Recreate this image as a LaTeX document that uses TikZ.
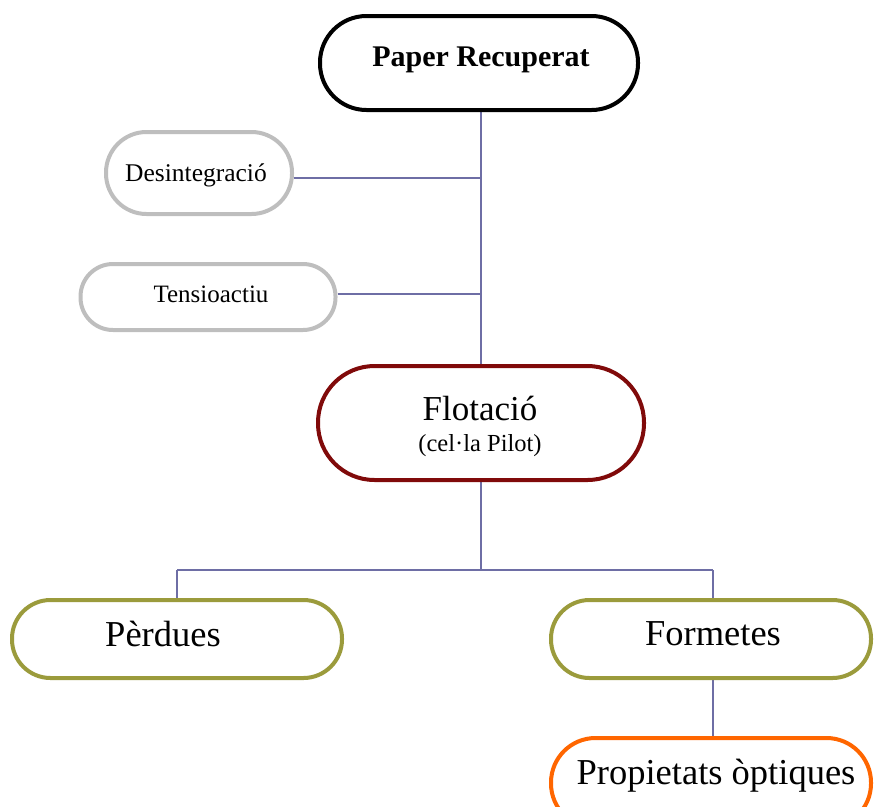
\documentclass[tikz,border=0pt]{standalone}
\usepackage{fontspec}
\usetikzlibrary{backgrounds,calc}
\setmainfont{Liberation Serif}
\definecolor{linkblue}{RGB}{110,110,165}
\definecolor{softgray}{RGB}{190,190,190}
\definecolor{darkred}{RGB}{128,10,10}
\definecolor{olive}{RGB}{155,155,60}
\definecolor{brightorange}{RGB}{255,102,0}
\tikzset{
  pill/.style n args={3}{draw=#1, line width=4pt, fill=white, inner sep=0pt,
    minimum width=#2, minimum height=#3, rounded corners=#3/2-0.5pt},
  link/.style={draw=linkblue, line width=1.5pt},
  lbl/.style={font=#1, inner sep=0pt}
}
\begin{document}
\begin{tikzpicture}[x=1pt,y=-1pt]
\useasboundingbox (0,0) rectangle (874,806);
\clip (0,0) rectangle (874,806);

% boxes
\node[pill={black}{318pt}{94pt}] (paper) at (479,63) {};
\node[pill={softgray}{186pt}{82pt}] (desint) at (199,173) {};
\node[pill={softgray}{255pt}{66pt}] (tens) at (208,297) {};
\node[pill={darkred}{326pt}{114pt}] (flot) at (481,423) {};
\node[pill={olive}{330pt}{78pt}] (perd) at (177,639) {};
\node[pill={olive}{320pt}{78pt}] (form) at (711,639) {};
\node[pill={brightorange}{320pt}{90pt}] (prop) at (711,783) {};

% labels
\node[lbl={\bfseries\fontsize{30pt}{34pt}\selectfont}] (tpaper) at (481,60) {Paper Recuperat};
\node[lbl={\fontsize{25.5pt}{30pt}\selectfont}] (tdesint) at (196,175) {Desintegració};
\node[lbl={\fontsize{25pt}{30pt}\selectfont}] (ttens) at (211,294) {Tensioactiu};
\node[lbl={\fontsize{35pt}{40pt}\selectfont}] (tflot) at (480,408) {Flotació};
\node[lbl={\fontsize{24.5pt}{28pt}\selectfont}] (tcel) at (480,446) {(cel·la Pilot)};
\node[lbl={\fontsize{36.5pt}{42pt}\selectfont}] (tperd) at (163,634) {Pèrdues};
\node[lbl={\fontsize{36.5pt}{42pt}\selectfont}] (tform) at (713,634) {Formetes};
\node[lbl={\fontsize{36.5pt}{42pt}\selectfont}] (tprop) at (716,776) {Propietats òptiques};

% branch points of the connector tree
\coordinate (dout) at ($(desint.east)+(0,5)$);
\coordinate (tout) at ($(tens.east)+(0,-3)$);
\coordinate (j1) at (flot.north |- dout);
\coordinate (j2) at (flot.north |- tout);
\coordinate (jm) at ($(perd.north -| flot.south)+(0,-28)$);
\coordinate (jl) at (perd.north |- jm);
\coordinate (jr) at ($(form.north |- jm)+(2,0)$);

% connectors, kept behind the boxes
\begin{scope}[on background layer]
\draw[link] (paper.south -| flot.north) -- (flot.north);
\draw[link] (dout) -- (j1);
\draw[link] (tout) -- (j2);
\draw[link] (flot.south) -- (jm);
\draw[link] (jl) -- (jr);
\draw[link] (jl) -- (perd.north);
\draw[link] (jr) -- (jr |- form.north);
\draw[link] (jr |- form.south) -- (jr |- prop.north);
\end{scope}
\end{tikzpicture}
\end{document}
